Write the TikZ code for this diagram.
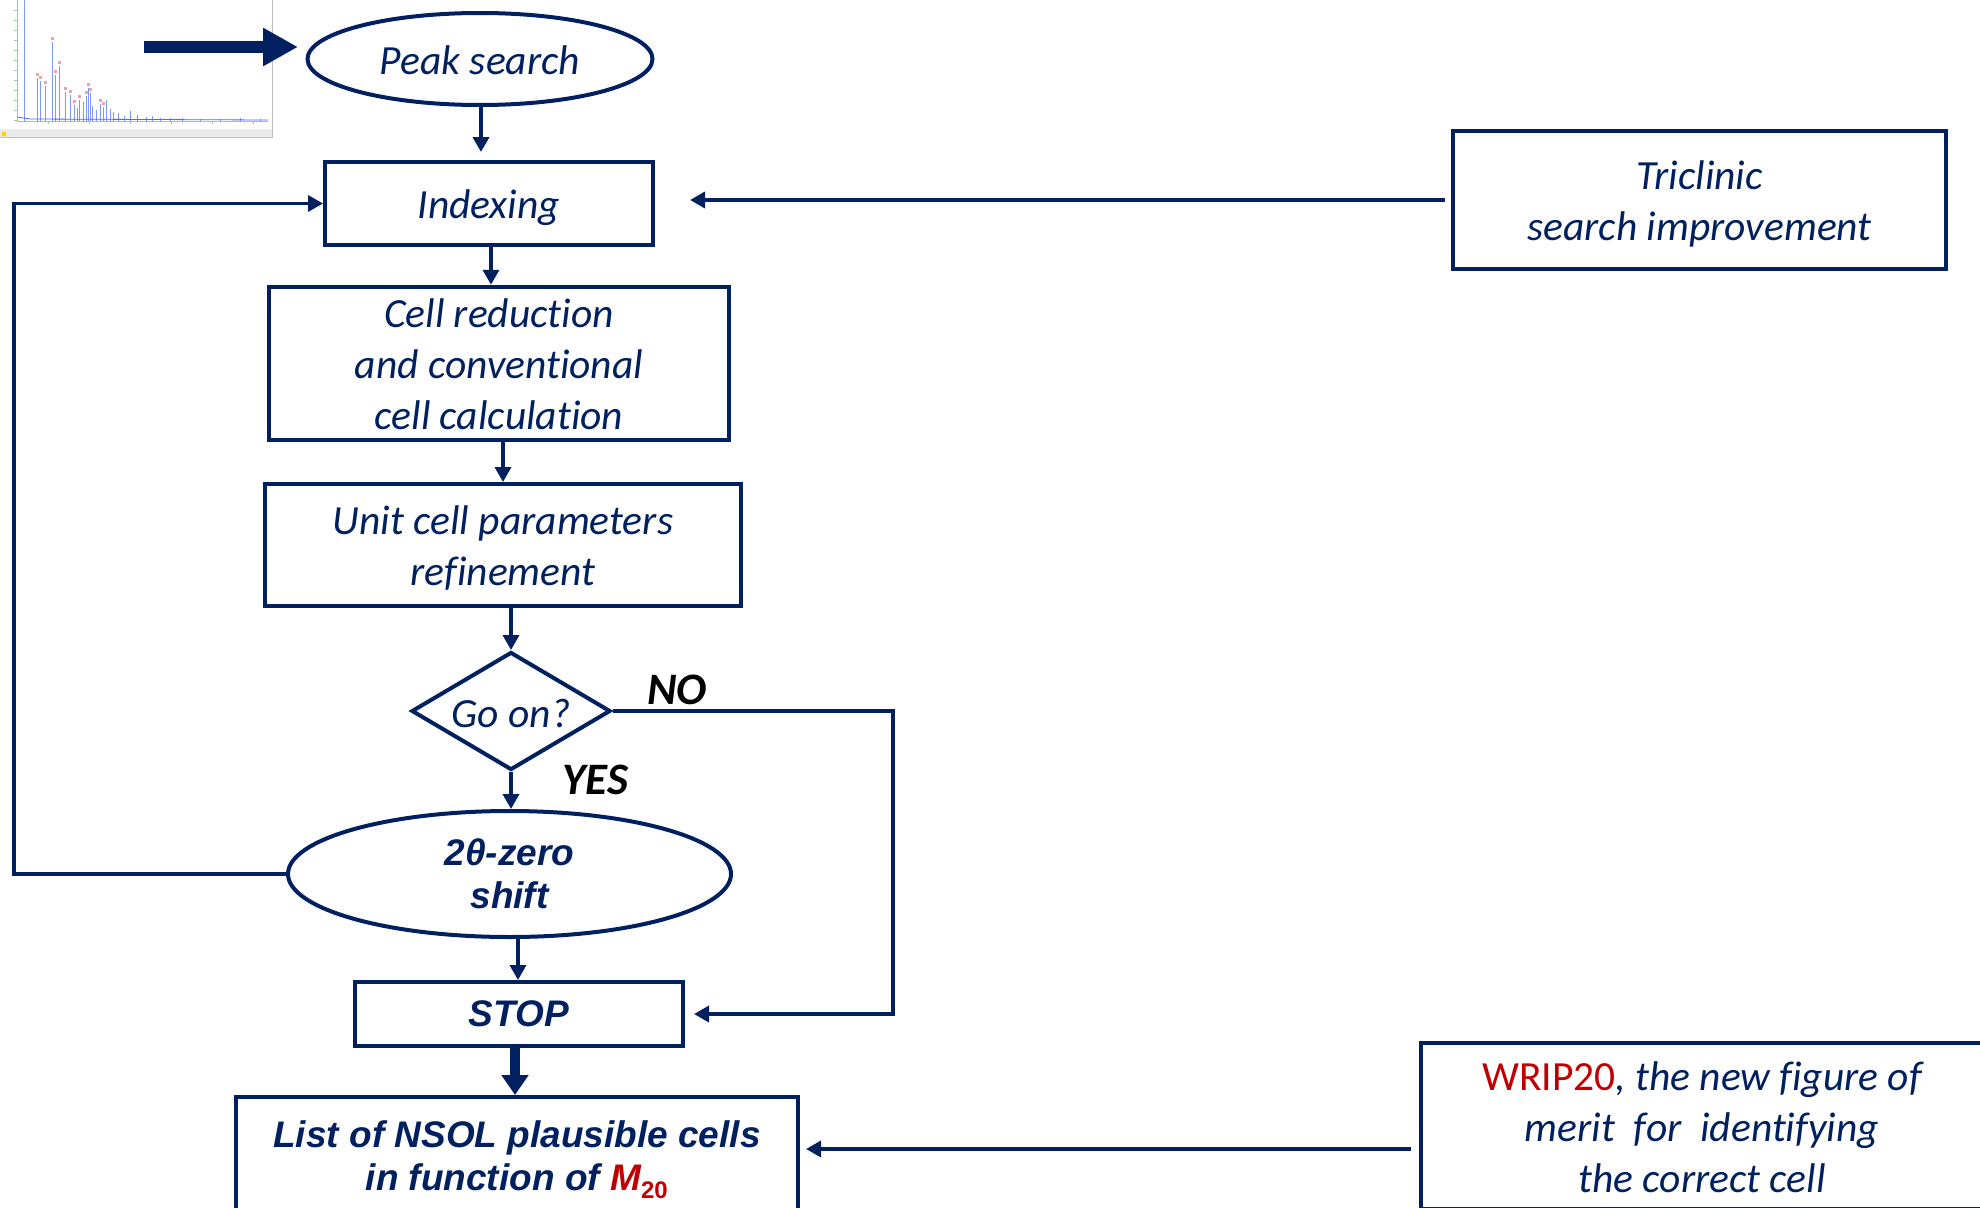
\documentclass[tikz,border=0pt]{standalone}
\usepackage{fontspec}
\setmainfont{Carlito}[Ligatures=NoCommon]
\newfontfamily\arialf{Liberation Sans}
\usetikzlibrary{shapes.geometric,arrows.meta}
\definecolor{navy}{HTML}{002060}
\definecolor{wred}{HTML}{C00000}
\definecolor{specblue}{HTML}{4A6CF0}
\definecolor{specpink}{HTML}{F4A0A8}
\newcommand\cst{\rule[-0.25em]{0pt}{1em}}
\newcommand\cfi{\rule[-0.25em]{0pt}{\dimexpr 1em+10pt\relax}}
\newcommand\arst{\rule[-0.212em]{0pt}{1.117em}}
\tikzset{
  box/.style={draw=navy, line width=4pt, rectangle, text=navy, align=center, inner sep=0pt},
  oval/.style={draw=navy, line width=4pt, ellipse, text=navy, align=center, inner sep=0pt},
  calt/.style={font=\fontsize{41.5}{51}\selectfont\itshape},
  arlt/.style={font=\fontsize{37}{43}\selectfont\arialf\bfseries\itshape},
  conn/.style={draw=navy, line width=3.5pt, -{Triangle[length=15pt,width=16pt]}},
  yesno/.style={font=\fontsize{45}{50}\selectfont\bfseries\itshape, text=black, inner sep=0pt},
}
\begin{document}
\begin{tikzpicture}[x=1pt,y=-1pt]
\useasboundingbox (0,0) rectangle (1980,1207);
% spectrum thumbnail
\fill[white] (0,0) rectangle (273,137);
\fill[black!8] (0,129) rectangle (272,137);
\draw[black!25, line width=1pt] (272,0) -- (272,137) -- (0,137);
\fill[yellow!70!orange] (4,134) circle (2.5);
\draw[green!50!black!40, line width=0.8pt] (17,0) -- (17,121) -- (268,121);
\foreach \yy in {10,20,...,120} \draw[green!50!black!40, line width=0.6pt] (14,\yy) -- (17,\yy);
\foreach \xx in {48,89,130,171,212,253} \draw[green!50!black!40, line width=0.6pt] (\xx,121) -- (\xx,124);
\foreach \xx/\hh in {24.7/0, 37/78, 40/81, 45/86, 52/42, 55/75, 59/66, 65/92, 70/95, 74/105, 77/108, 79/100, 83/102, 86/96, 88/88, 90/93, 92/106, 96/110, 100/104, 103/107, 106/100, 110/109, 113/112, 118/113, 124/116, 130/111, 137/115, 146/117, 152/116, 160/118, 170/118, 182/118, 200/119, 220/119, 240/118, 260/119} {
  \draw[specblue!70, line width=0.9pt] (\xx,121) -- (\xx,\hh);
}
\foreach \xx/\hh in {37/76, 40/79, 45/84, 52/40, 55/73, 59/64, 65/90, 70/93, 74/103, 79/98, 86/94, 88/86, 90/91, 100/102, 103/105} {
  \fill[specpink] (\xx-1.5,\hh-3) rectangle (\xx+1.5,\hh);
}
\draw[specblue, line width=0.8pt] (17,117) -- (30,119) -- (268,120);
% coordinates
\coordinate (ent) at (144,47);
\coordinate (enttip) at (298,47);
\coordinate (a1) at (481,0);
\coordinate (a2) at (491,0);
\coordinate (a3) at (503,0);
\coordinate (a4) at (511,0);
\coordinate (a6) at (518,0);
\coordinate (a7) at (515,0);
% nodes
\node[oval, calt, minimum width=345pt, minimum height=92pt] (peak) at (480,59) {\cfi Peak search};
\node[box, calt, minimum width=328pt, minimum height=83pt] (idx) at (489,203.5) {\cfi Indexing};
\node[box, calt, minimum width=493pt, minimum height=138pt] (tri) at (1699.5,200) {\cfi Triclinic\\\cst search improvement};
\node[box, calt, minimum width=460pt, minimum height=151pt] (cell) at (499,363.5) {\cfi Cell reduction\\\cst and conventional\\\cst cell calculation};
\node[box, calt, minimum width=476pt, minimum height=122pt] (unit) at (503,545) {\cfi Unit cell parameters\\\cst refinement};
\node[diamond, draw=navy, line width=4pt, text=navy, calt, inner sep=0pt, minimum width=199pt, minimum height=118pt] (dia) at (511,711) {\makebox[0pt]{\raisebox{-0.4em}[0pt][0pt]{Go on?}}};
\node[oval, arlt, minimum width=443pt, minimum height=126pt] (ell) at (509.5,874) {\arst 2\textit{θ}-zero\\\arst shift};
\node[box, arlt, minimum width=328pt, minimum height=64pt] (stop) at (519,1014) {\arst STOP};
\node[box, arlt, minimum width=562pt, minimum height=118pt] (list) at (517,1156) {\arst List of NSOL plausible cells\\\arst in function of {\color{wred}M\textsubscript{\upshape\fontsize{24}{24}\selectfont 20}}};
\node[box, calt, minimum width=562pt, minimum height=166pt] (wrip) at (1702,1126) {\cfi{\upshape\color{wred}WRIP20}, the new figure of\\\cst merit\ \ for\ \ identifying\\\cst the correct cell};
\node[yesno] (no) at (677,690) {NO};
\node[yesno] (yes) at (595,780) {YES};
% connectors
\draw[navy, line width=12pt, -{Triangle[length=35pt,width=36pt]}] (ent) -- (enttip);
\draw[conn, line width=4.5pt, shorten >=8pt] (peak.south -| a1) -- (idx.north -| a1);
\draw[conn] (idx.south -| a2) -- (cell.north -| a2);
\draw[conn] (cell.south -| a3) -- (unit.north -| a3);
\draw[conn] (unit.south -| a4) -- (dia.north -| a4);
\draw[conn] (dia.south) -- (ell.north -| dia.south);
\draw[conn] (ell.south -| a6) -- (stop.north -| a6);
\draw[navy, line width=10pt, -{Triangle[length=20pt,width=26pt]}] (stop.south -| a7) -- (list.north -| a7);
\draw[conn, shorten <=6pt, shorten >=35pt] (tri.west) -- (tri.west -| idx.east);
\coordinate (wa) at ([yshift=-23pt]wrip.west);
\draw[conn, shorten <=8pt, shorten >=6pt] (wa) -- (wa -| list.east);
\coordinate (lp) at (14,874);
\draw[conn] (ell.west) -- (ell.west -| lp) |- (idx.west);
\coordinate (nr) at (893,711);
\draw[conn, shorten >=9pt] (dia.east) -- (nr) |- (stop.east);
\end{tikzpicture}
\end{document}
